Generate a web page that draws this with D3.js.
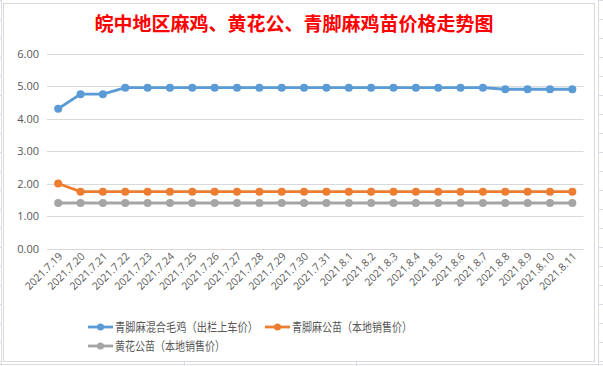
<!DOCTYPE html>
<html><head><meta charset="utf-8">
<script src="https://cdn.jsdelivr.net/npm/d3@7"></script>
<style>body{margin:0;background:#fff}svg{display:block}</style>
</head><body>
<script>
const title = "皖中地区麻鸡、黄花公、青脚麻鸡苗价格走势图";
const dates = ["2021.7.19","2021.7.20","2021.7.21","2021.7.22","2021.7.23","2021.7.24","2021.7.25","2021.7.26","2021.7.27","2021.7.28","2021.7.29","2021.7.30","2021.7.31","2021.8.1","2021.8.2","2021.8.3","2021.8.4","2021.8.5","2021.8.6","2021.8.7","2021.8.8","2021.8.9","2021.8.10","2021.8.11"];
const seriesNames = ["青脚麻混合毛鸡（出栏上车价）","青脚麻公苗（本地销售价）","黄花公苗（本地销售价）"];
const blueVals = [4.3,4.75,4.75,4.95,4.95,4.95,4.95,4.95,4.95,4.95,4.95,4.95,4.95,4.95,4.95,4.95,4.95,4.95,4.95,4.95,4.9,4.9,4.9,4.9];
const orangeVals = [2.0,1.75,1.75,1.75,1.75,1.75,1.75,1.75,1.75,1.75,1.75,1.75,1.75,1.75,1.75,1.75,1.75,1.75,1.75,1.75,1.75,1.75,1.75,1.75];
const grayVals = [1.4,1.4,1.4,1.4,1.4,1.4,1.4,1.4,1.4,1.4,1.4,1.4,1.4,1.4,1.4,1.4,1.4,1.4,1.4,1.4,1.4,1.4,1.4,1.4];
const yTicks = [0,1,2,3,4,5,6];
const colors = ["#5b9bd5","#ed7d31","#a5a5a5"];

const W = 603, H = 366;
const svg = d3.select("body").append("svg").attr("width", W).attr("height", H);

// spreadsheet background lines
const bg = svg.append("g").attr("stroke", "#d9dce3").attr("stroke-width", 1);
bg.append("line").attr("x1", 1.5).attr("x2", 1.5).attr("y1", 0).attr("y2", H);
bg.append("line").attr("x1", 598.5).attr("x2", 598.5).attr("y1", 0).attr("y2", H);
bg.append("line").attr("x1", 0).attr("x2", W).attr("y1", 364.5).attr("y2", 364.5);
d3.range(0, H, 19).forEach(y => {
  bg.append("line").attr("x1", 599).attr("x2", W).attr("y1", y + 0.5).attr("y2", y + 0.5);
  bg.append("line").attr("x1", 0).attr("x2", 1).attr("y1", y + 0.5).attr("y2", y + 0.5);
});
[184, 356].forEach(x => bg.append("line").attr("x1", x + 0.5).attr("x2", x + 0.5).attr("y1", 362).attr("y2", H));

// chart frame
svg.append("rect").attr("x", 3.5).attr("y", 3.5).attr("width", 591).attr("height", 358)
  .attr("fill", "#fff").attr("stroke", "#d9d9d9");

svg.append("text").attr("x", 294).attr("y", 31).attr("text-anchor", "middle")
  .attr("font-family", "'Noto Sans CJK SC', sans-serif").attr("font-size", 19).attr("font-weight", "bold")
  .attr("fill", "#ff0000").text(title);

const x = d3.scaleBand().domain(dates).range([47, 583.5]);
const y = d3.scaleLinear().domain([0, 6]).range([248.5, 53.5]);

const font = "'Microsoft YaHei','Noto Sans CJK SC',sans-serif";

// gridlines
svg.append("g").selectAll("line").data(yTicks).join("line")
  .attr("x1", 47).attr("x2", 583.5)
  .attr("y1", d => Math.round(y(d)) + 0.5).attr("y2", d => Math.round(y(d)) + 0.5)
  .attr("stroke", "#d9d9d9").attr("stroke-width", 1);

// y axis labels
svg.append("g").selectAll("text").data(yTicks).join("text")
  .attr("x", 39).attr("y", d => y(d) + 4).attr("text-anchor", "end")
  .attr("font-family", "'Segoe UI','Open Sans',sans-serif").attr("font-size", 11).attr("fill", "#595959")
  .text(d => d.toFixed(2));

// x axis labels
svg.append("g").selectAll("text").data(dates).join("text")
  .attr("transform", d => `translate(${x(d) + x.bandwidth() / 2 + 5},${257}) rotate(-45)`)
  .attr("text-anchor", "end")
  .attr("font-family", "'Segoe UI','Open Sans',sans-serif").attr("font-size", 10.5).attr("fill", "#595959")
  .text(d => d);

const allSeries = [blueVals, orangeVals, grayVals];
const line = d3.line().x((d, i) => x(dates[i]) + x.bandwidth() / 2).y(d => y(d));

// draw gray, orange, blue (blue on top)
[2, 1, 0].forEach(si => {
  const vals = allSeries[si];
  svg.append("path").datum(vals).attr("d", line).attr("fill", "none")
    .attr("stroke", colors[si]).attr("stroke-width", 2.8).attr("stroke-linejoin", "round");
  svg.append("g").selectAll("circle").data(vals).join("circle")
    .attr("cx", (d, i) => x(dates[i]) + x.bandwidth() / 2).attr("cy", d => y(d))
    .attr("r", 4).attr("fill", colors[si]);
});

// legend
const legendItems = [
  {i: 0, x: 88, y: 327, w: 143},
  {i: 1, x: 265, y: 327, w: 120},
  {i: 2, x: 88, y: 346, w: 110}
];
legendItems.forEach(it => {
  const g = svg.append("g");
  g.append("line").attr("x1", it.x).attr("x2", it.x + 25).attr("y1", it.y).attr("y2", it.y)
    .attr("stroke", colors[it.i]).attr("stroke-width", 2.8);
  g.append("circle").attr("cx", it.x + 12.5).attr("cy", it.y).attr("r", 3.5).attr("fill", colors[it.i]);
  g.append("text").attr("x", it.x + 27).attr("y", it.y + 5)
    .attr("font-family", font).attr("font-size", 12.5).attr("fill", "#595959")
    .attr("textLength", it.w).attr("lengthAdjust", "spacingAndGlyphs")
    .text(seriesNames[it.i]);
});
</script>
</body></html>
